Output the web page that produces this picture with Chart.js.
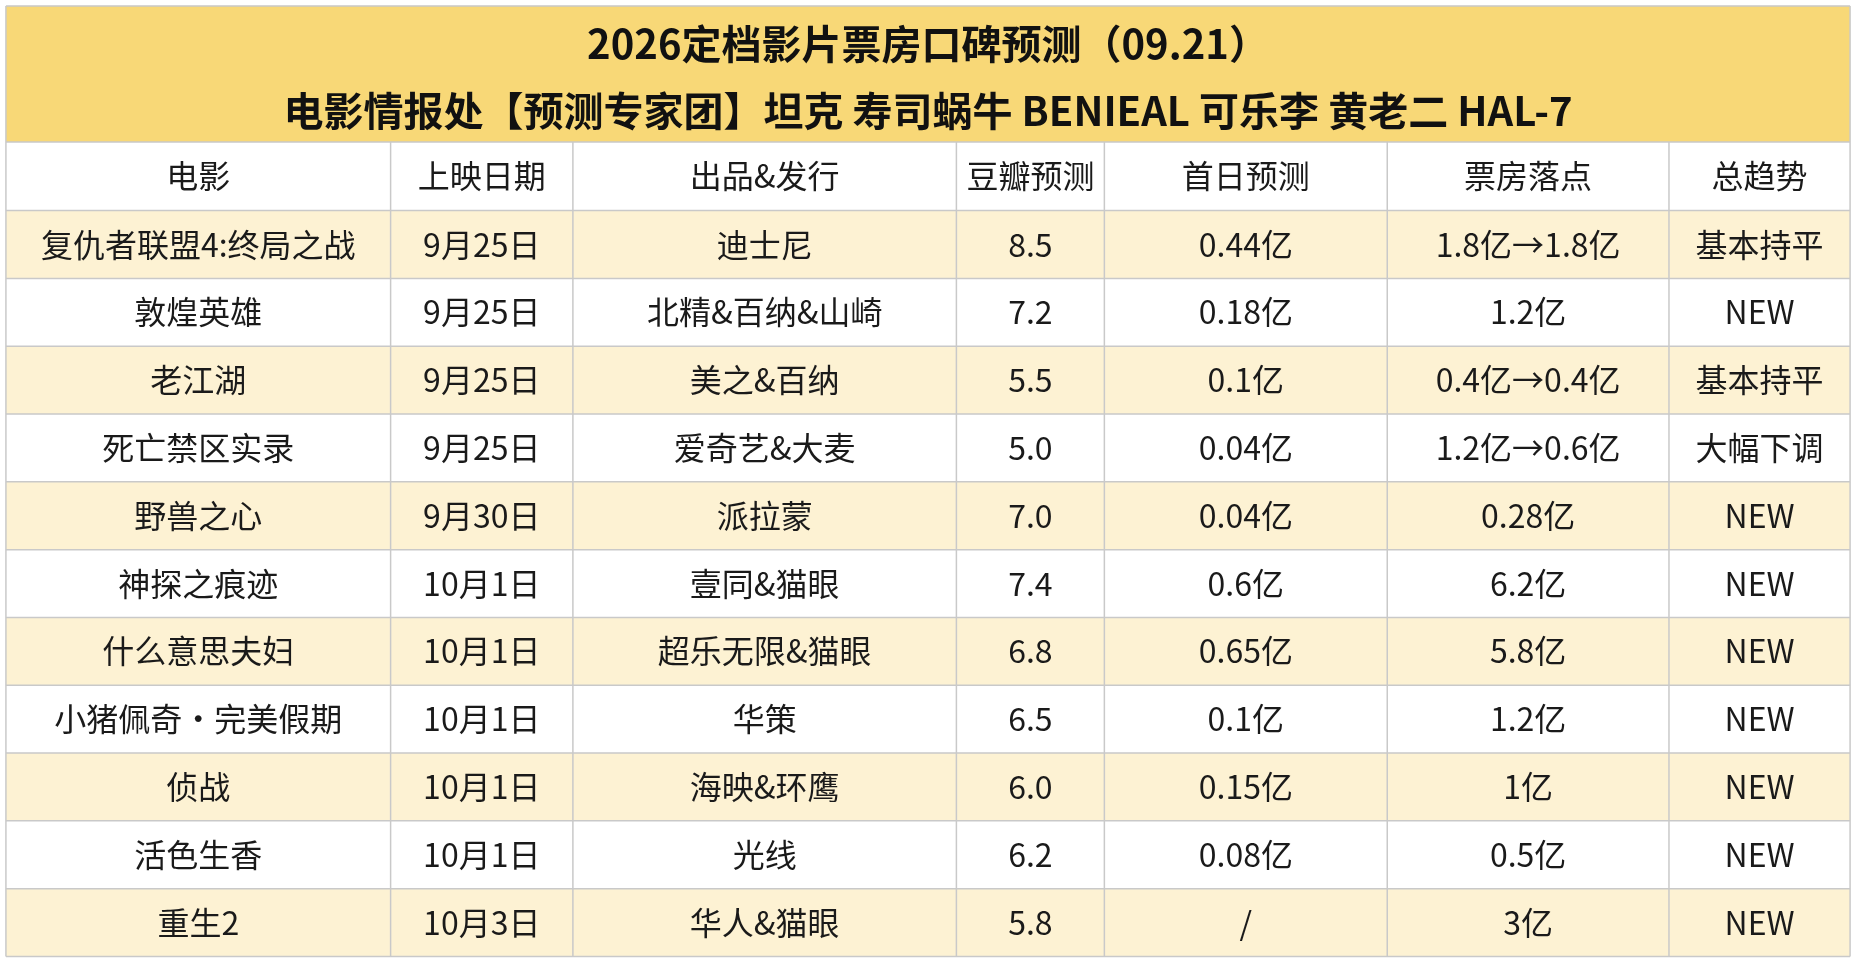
<!DOCTYPE html>
<html><head><meta charset="utf-8">
<script src="https://cdn.jsdelivr.net/npm/chart.js@4/dist/chart.umd.min.js"></script>
<style>html,body{margin:0;padding:0;background:#fff}#c{display:block}</style>
</head><body><canvas id="c" width="1856" height="962"></canvas>
<script>
const title1 = "2026定档影片票房口碑预测（09.21）";
const title2 = "电影情报处【预测专家团】坦克 寿司蜗牛 BENIEAL 可乐李 黄老二 HAL-7";
const headers = ["电影","上映日期","出品&发行","豆瓣预测","首日预测","票房落点","总趋势"];
const films = ["复仇者联盟4:终局之战","敦煌英雄","老江湖","死亡禁区实录","野兽之心","神探之痕迹","什么意思夫妇","小猪佩奇・完美假期","侦战","活色生香","重生2"];
const dates = ["9月25日","9月25日","9月25日","9月25日","9月30日","10月1日","10月1日","10月1日","10月1日","10月1日","10月3日"];
const studios = ["迪士尼","北精&百纳&山崎","美之&百纳","爱奇艺&大麦","派拉蒙","壹同&猫眼","超乐无限&猫眼","华策","海映&环鹰","光线","华人&猫眼"];
const douban = ["8.5","7.2","5.5","5.0","7.0","7.4","6.8","6.5","6.0","6.2","5.8"];
const firstDay = ["0.44亿","0.18亿","0.1亿","0.04亿","0.04亿","0.6亿","0.65亿","0.1亿","0.15亿","0.08亿","/"];
const boxOffice = ["1.8亿→1.8亿","1.2亿","0.4亿→0.4亿","1.2亿→0.6亿","0.28亿","6.2亿","5.8亿","1.2亿","1亿","0.5亿","3亿"];
const trend = ["基本持平","NEW","基本持平","大幅下调","NEW","NEW","NEW","NEW","NEW","NEW","NEW"];

// layout (reference units 1568 x 813)
const colEdges = [5,330,484,808,933,1172,1410,1563];
const titleTop = 5, headTop = 120, bodyTop = 178, rowH = 57.3;

const tablePlugin = {
  id:'table',
  afterDraw(chart){
    const {ctx, scales:{x,y}} = chart;
    const X = v=>x.getPixelForValue(v), Y = v=>y.getPixelForValue(v);
    const L = X(colEdges[0]), R = X(colEdges[colEdges.length-1]);
    const cols = [films,dates,studios,douban,firstDay,boxOffice,trend];
    const n = films.length;
    const bottom = bodyTop + rowH*n;
    ctx.save();
    // title background
    ctx.fillStyle = '#f8d877';
    ctx.fillRect(L, Y(titleTop), R-L, Y(headTop)-Y(titleTop));
    // row stripes
    for(let i=0;i<n;i++){
      if(i%2===0){ctx.fillStyle='#fdf2d3';ctx.fillRect(L,Y(bodyTop+i*rowH),R-L,Y(bodyTop+(i+1)*rowH)-Y(bodyTop+i*rowH));}
    }
    // grid lines
    ctx.strokeStyle='#c9c9c9';ctx.lineWidth=1.5;
    const hl=v=>{ctx.beginPath();ctx.moveTo(L,Y(v));ctx.lineTo(R,Y(v));ctx.stroke();};
    hl(titleTop);hl(headTop);
    for(let i=0;i<=n;i++) hl(bodyTop+i*rowH);
    colEdges.forEach((c,k)=>{ctx.beginPath();ctx.moveTo(X(c),Y((k===0||k===colEdges.length-1)?titleTop:headTop));ctx.lineTo(X(c),Y(bottom));ctx.stroke();});
    // titles
    ctx.fillStyle='#111';ctx.textAlign='center';ctx.textBaseline='middle';
    ctx.font='bold 40px "Noto Sans CJK SC", sans-serif';
    const cx=(L+R)/2;
    ctx.fillText(title1,cx,Y(37));
    ctx.fillText(title2,cx,Y(94));
    // headers & cells
    ctx.font='32px "Noto Sans CJK SC", sans-serif';ctx.fillStyle='#1a1a1a';
    headers.forEach((h,k)=>ctx.fillText(h,(X(colEdges[k])+X(colEdges[k+1]))/2,Y((headTop+bodyTop)/2)));
    for(let i=0;i<n;i++){
      const cy=Y(bodyTop+(i+0.5)*rowH);
      cols.forEach((arr,k)=>ctx.fillText(arr[i],(X(colEdges[k])+X(colEdges[k+1]))/2,cy));
    }
    ctx.restore();
  }
};

new Chart(document.getElementById('c'),{
  type:'scatter',
  data:{datasets:[{data:[]}]},
  options:{
    responsive:false,animation:false,
    layout:{padding:0},
    plugins:{legend:{display:false},tooltip:{enabled:false}},
    scales:{
      x:{type:'linear',min:0,max:1568,display:false},
      y:{type:'linear',min:0,max:813,reverse:true,display:false}
    }
  },
  plugins:[tablePlugin]
});
</script></body></html>
